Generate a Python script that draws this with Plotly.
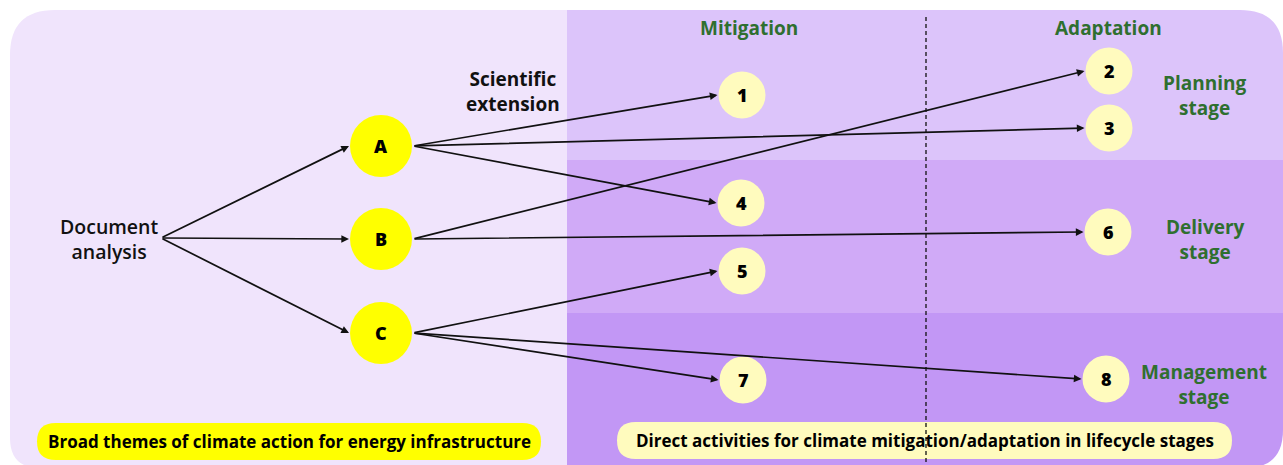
import plotly.graph_objects as go

# ---------------- data ----------------
theme_labels = ["A", "B", "C"]
activity_labels = ["1", "2", "3", "4", "5", "6", "7", "8"]
edges_doc = [("Doc", "A"), ("Doc", "B"), ("Doc", "C")]
edges_theme = [("A", "1"), ("A", "3"), ("A", "4"),
               ("B", "2"), ("B", "6"),
               ("C", "5"), ("C", "7"), ("C", "8")]
column_titles = ["Mitigation", "Adaptation"]
stage_titles = ["Planning<br>stage", "Delivery<br>stage", "Management<br>stage"]
source_title = "Document<br>analysis"
extension_title = "Scientific<br>extension"
footer_left = "Broad themes of climate action for energy infrastructure"
footer_right = "Direct activities for climate mitigation/adaptation in lifecycle stages"

# ---------------- layout (positions / styles) ----------------
W, H = 1283, 465
pos = {
    "Doc": (160, 238),
    "A": (381, 146), "B": (381, 239), "C": (381, 333),
    "1": (742, 95), "2": (1109, 71), "3": (1109, 128), "4": (741, 203),
    "5": (742, 271), "6": (1108, 232), "7": (743, 380), "8": (1106, 379),
}
R_THEME, R_ACT = 31, 23.5
radius = {k: (R_THEME if k in theme_labels else R_ACT) for k in pos}
radius["Doc"] = 0

C_LEFT = "#F0E4FC"
C_TOP = "#DCC4FA"
C_MID = "#D0AAF7"
C_BOT = "#C297F5"
C_YEL = "#FFFF00"
C_PALE = "#FFFBBE"
C_GREEN = "#2F6F2F"
FONT = "Open Sans"

fig = go.Figure()
shapes = []


def path_shape(path, color):
    return dict(type="path", path=path, fillcolor=color, line=dict(width=0),
                xref="x", yref="y", layer="below")


# backgrounds
shapes.append(path_shape("M 40,468 Q 10,468 10,438 L 10,55 Q 10,10 55,10 L 568,10 L 568,468 Z", C_LEFT))
shapes.append(path_shape("M 567,10 L 1240,10 Q 1283,10 1283,53 L 1283,161 L 567,161 Z", C_TOP))
shapes.append(path_shape("M 567,160 L 1283,160 L 1283,314 L 567,314 Z", C_MID))
shapes.append(path_shape("M 567,313 L 1283,313 L 1283,430 Q 1283,468 1245,468 L 567,468 Z", C_BOT))


def pill(x0, x1, y0, y1, color):
    r = (y1 - y0) / 2
    p = (f"M {x0+r},{y0} L {x1-r},{y0} Q {x1},{y0} {x1},{y0+r} Q {x1},{y1} {x1-r},{y1} "
         f"L {x0+r},{y1} Q {x0},{y1} {x0},{y1-r} Q {x0},{y0} {x0+r},{y0} Z")
    return path_shape(p, color)


shapes.append(pill(37, 541, 423, 460, C_YEL))
shapes.append(pill(617, 1232, 422, 459, C_PALE))

# dashed divider
shapes.append(dict(type="line", x0=926, x1=926, y0=17, y1=468, xref="x", yref="y",
                   line=dict(color="#111111", width=1.3, dash="4px,3px"), layer="below"))

# node circles
for k in theme_labels + activity_labels:
    x, y = pos[k]
    r = radius[k]
    shapes.append(dict(type="circle", x0=x - r, x1=x + r, y0=y - r, y1=y + r,
                       xref="x", yref="y", line=dict(width=0),
                       fillcolor=C_YEL if k in theme_labels else C_PALE, layer="above"))

annotations = []
# arrows
for s, t in edges_doc + edges_theme:
    sx, sy = pos[s]
    tx, ty = pos[t]
    annotations.append(dict(x=tx - radius[t] - 1, y=ty, ax=sx + radius[s] + 1, ay=sy,
                            xref="x", yref="y", axref="x", ayref="y", text="",
                            showarrow=True, arrowhead=2, arrowsize=0.9, arrowwidth=1.7,
                            arrowcolor="#111111", standoff=0, startstandoff=0))

# node labels
for k in theme_labels + activity_labels:
    x, y = pos[k]
    annotations.append(dict(x=x, y=y, text=k, showarrow=False, xref="x", yref="y",
                            font=dict(family=FONT, size=18, color="#000000", weight=800)))

# texts
annotations.append(dict(x=109, y=239, text=source_title, showarrow=False,
                        font=dict(family=FONT, size=19.5, color="#111111", weight=600)))
annotations.append(dict(x=513, y=91, text=extension_title, showarrow=False,
                        font=dict(family=FONT, size=19, color="#111111", weight=700)))
for txt, x in zip(column_titles, [749, 1108]):
    annotations.append(dict(x=x, y=28, text=txt, showarrow=False,
                            font=dict(family=FONT, size=19, color=C_GREEN, weight=700)))
for txt, (x, y) in zip(stage_titles, [(1204, 95), (1205, 239), (1204, 384)]):
    annotations.append(dict(x=x, y=y, text=txt, showarrow=False,
                            font=dict(family=FONT, size=19, color=C_GREEN, weight=700)))
annotations.append(dict(x=289, y=441, text=footer_left, showarrow=False,
                        font=dict(family=FONT, size=17, color="#000000", weight=700)))
annotations.append(dict(x=925, y=440, text=footer_right, showarrow=False,
                        font=dict(family=FONT, size=17, color="#000000", weight=700)))

for a in annotations:
    a.setdefault("xref", "x")
    a.setdefault("yref", "y")

fig.update_layout(
    width=W, height=H, margin=dict(l=0, r=0, t=0, b=0),
    paper_bgcolor="white", plot_bgcolor="white",
    xaxis=dict(range=[0, W], visible=False, fixedrange=True),
    yaxis=dict(range=[H, 0], visible=False, fixedrange=True),
    shapes=shapes, annotations=annotations, showlegend=False,
)

fig.write_html("out.html", config={"displayModeBar": False},
               post_script="document.body.style.margin='0';")
